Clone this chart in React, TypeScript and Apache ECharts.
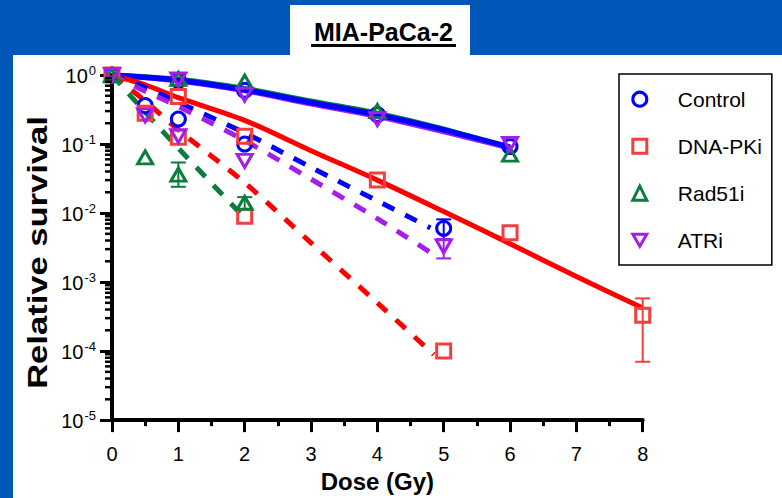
import React, { useEffect, useRef } from 'react';
import * as echarts from 'echarts';

const FONT = '"Liberation Sans", Arial, Helvetica, sans-serif';

const BLUE = '#0000ff';
const RED_LINE = '#ff0000';
const RED_MARK = '#f43e3e';
const GREEN = '#0a7d3c';
const PURPLE = '#a51ee8';
const BG = '#0057b8';

const treatments = ['Control', 'DNA-PKi', 'Rad51i', 'ATRi'];

// Measured survival points [dose (Gy), relative survival]
const controlPoints = [[0, 1], [0.5, 0.36], [1, 0.83], [1, 0.23], [2, 0.6], [2, 0.1], [4, 0.267], [5, 0.006], [6, 0.092]];
const dnapkPoints = [[0, 1], [0.5, 0.28], [1, 0.49], [1, 0.125], [2, 0.13], [2, 0.009], [4, 0.03], [5, 0.0001], [6, 0.0052], [8, 0.00033]];
const rad51Points = [[0, 1], [0.5, 0.064], [1, 0.88], [1, 0.036], [2, 0.8], [2, 0.014], [4, 0.3], [6, 0.07]];
const atrPoints = [[0, 1], [0.5, 0.26], [1, 0.86], [1, 0.13], [2, 0.52], [2, 0.057], [4, 0.23], [5, 0.0033], [6, 0.1]];

// Error bars [dose, low, high]
const controlErr = [[5, 0.0042, 0.0081]];
const dnapkErr = [[8, 0.00007, 0.00058]];
const rad51Err = [[1, 0.024, 0.054], [2, 0.0115, 0.017]];
const atrErr = [[5, 0.0022, 0.0042]];

// Fitted curves
const controlFitSolid = [[0, 1], [1, 0.84], [2, 0.61], [3, 0.4], [4, 0.265], [5, 0.16], [6, 0.09]];
const rad51FitSolid = [[0, 1], [1, 0.87], [2, 0.64], [3, 0.42], [4, 0.28], [5, 0.165], [6, 0.086]];
const atrFitSolid = [[0, 1], [1, 0.82], [2, 0.59], [3, 0.38], [4, 0.25], [5, 0.15], [6, 0.087]];
const dnapkFitSolid = [[0, 1], [0.5, 0.72], [1, 0.47], [2, 0.22], [3, 0.08], [4, 0.03], [5, 0.0105], [6, 0.0036], [7, 0.0012], [8, 0.00042]];

const controlFitDash = [[0, 1], [0.5, 0.66], [1, 0.4], [2, 0.145], [3, 0.046], [4, 0.015], [4.8, 0.0061]];
const atrFitDash = [[0, 1], [0.5, 0.58], [1, 0.35], [2, 0.112], [3, 0.031], [4, 0.0083], [4.85, 0.0025]];
const dnapkFitDash = [[0, 1], [0.5, 0.42], [1, 0.16], [2, 0.0275], [3, 0.0037], [4, 0.0005], [4.85, 0.000089]];
const rad51FitDash = [[0, 1], [0.5, 0.29], [1, 0.087], [1.5, 0.027], [2, 0.0085]];

const INV_TRI = 'path://M0,0L20,0L10,17.32Z';

function minorLogTicks(): number[] {
  const out: number[] = [];
  for (let e = -5; e < 0; e++) {
    for (let m = 2; m <= 9; m++) out.push(m * Math.pow(10, e));
  }
  return out;
}

function fitLine(name: string, data: number[][], color: string, dashed: boolean, width: number, z: number) {
  return {
    type: 'line',
    name,
    data,
    smooth: 0.3,
    symbol: 'none',
    showSymbol: false,
    z,
    lineStyle: {
      color,
      width,
      type: dashed ? [13, 12] : 'solid',
      cap: 'butt',
    },
    silent: true,
  };
}

function markers(name: string, data: number[][], color: string, symbol: string, size: any) {
  return {
    type: 'scatter',
    name,
    data,
    symbol,
    symbolSize: size,
    z: 5,
    itemStyle: { color: 'rgba(0,0,0,0)', borderColor: color, borderWidth: 3, opacity: 1 },
  };
}

function errorBars(name: string, data: number[][], color: string) {
  return {
    type: 'custom',
    name,
    data,
    z: 4,
    clip: false,
    encode: { x: 0, y: [1, 2] },
    renderItem: (params: any, api: any) => {
      const x = api.value(0);
      const lo = api.coord([x, api.value(1)]);
      const hi = api.coord([x, api.value(2)]);
      const hw = 7.5;
      const st = { stroke: color, lineWidth: 2 };
      return {
        type: 'group',
        children: [
          { type: 'line', shape: { x1: lo[0], y1: lo[1], x2: hi[0], y2: hi[1] }, style: st },
          { type: 'line', shape: { x1: lo[0] - hw, y1: lo[1], x2: lo[0] + hw, y2: lo[1] }, style: st },
          { type: 'line', shape: { x1: hi[0] - hw, y1: hi[1], x2: hi[0] + hw, y2: hi[1] }, style: st },
        ],
      };
    },
  };
}

export default function App() {
  const ref = useRef<HTMLDivElement>(null);

  useEffect(() => {
    if (!ref.current) return;
    const chart = echarts.init(ref.current, null, { renderer: 'svg' });

    const option: any = {
      animation: false,
      backgroundColor: BG,
      textStyle: { fontFamily: FONT },
      grid: { left: 112, right: 139.3, top: 75, bottom: 68.5 },
      graphic: [
        { type: 'rect', z: -10, shape: { x: 13, y: 55, width: 769, height: 443 }, style: { fill: '#fff' } },
        { type: 'rect', z: -10, shape: { x: 290, y: 5, width: 180, height: 52 }, style: { fill: '#fff' } },
        {
          type: 'text', z: 10, x: 383.5, y: 32,
          style: { text: 'MIA-PaCa-2', fontSize: 25, fontWeight: 'bold', fontFamily: FONT, fill: '#000', align: 'center', verticalAlign: 'middle' },
        },
        { type: 'line', z: 10, shape: { x1: 311, y1: 45.5, x2: 456, y2: 45.5 }, style: { stroke: '#000', lineWidth: 3 } },
        {
          type: 'text', z: 10, x: 38, y: 252.5, rotation: Math.PI / 2, scaleX: 1.28,
          style: { text: 'Relative survival', fontSize: 27, fontWeight: 'bold', fontFamily: FONT, fill: '#000', align: 'center', verticalAlign: 'middle' },
        },
      ],
      legend: {
        orient: 'vertical',
        left: 619,
        top: 74,
        padding: [14.7, 10, 14.3, 12.3],
        borderColor: '#000',
        borderWidth: 1.5,
        backgroundColor: '#fff',
        itemWidth: 14,
        itemHeight: 14,
        itemGap: 26,
        selectedMode: false,
        textStyle: { fontSize: 21, color: '#000', fontFamily: FONT, padding: [0, 0, 0, 26], lineHeight: 14 },
        data: [
          { name: treatments[0], icon: 'circle', itemStyle: { color: '#fff', borderColor: BLUE, borderWidth: 3 } },
          { name: treatments[1], icon: 'rect', itemStyle: { color: '#fff', borderColor: RED_MARK, borderWidth: 3 } },
          { name: treatments[2], icon: 'triangle', itemStyle: { color: '#fff', borderColor: GREEN, borderWidth: 3 } },
          { name: treatments[3], icon: INV_TRI, itemStyle: { color: '#fff', borderColor: PURPLE, borderWidth: 3 } },
        ],
      },
      xAxis: {
        type: 'value',
        min: 0,
        max: 8,
        interval: 1,
        name: 'Dose (Gy)',
        nameLocation: 'middle',
        nameGap: 42,
        nameTextStyle: { fontSize: 24, fontWeight: 'bold', color: '#000', fontFamily: FONT },
        axisLine: { show: true, onZero: false, lineStyle: { color: '#000', width: 4 } },
        axisTick: { show: true, inside: false, length: 12, lineStyle: { color: '#000', width: 3 } },
        minorTick: { show: true, splitNumber: 2, length: 6, lineStyle: { color: '#000', width: 3 } },
        splitLine: { show: false },
        axisLabel: { fontSize: 20, color: '#000', margin: 24, fontFamily: FONT },
      },
      yAxis: {
        type: 'log',
        logBase: 10,
        min: 1e-5,
        max: 1,
        axisLine: { show: true, onZero: false, lineStyle: { color: '#000', width: 4 } },
        axisTick: { show: true, inside: false, length: 12, lineStyle: { color: '#000', width: 3 } },
        splitLine: { show: false },
        axisLabel: {
          margin: 16,
          color: '#000',
          fontFamily: FONT,
          formatter: (v: number) => `{b|10}{s|${Math.round(Math.log10(v))}}`,
          rich: {
            b: { fontSize: 20, color: '#000', fontFamily: FONT, lineHeight: 22, verticalAlign: 'bottom' },
            s: { fontSize: 13, color: '#000', fontFamily: FONT, lineHeight: 22, verticalAlign: 'top', padding: [0, 0, 0, 1] },
          },
        },
      },
      series: [
        {
          type: 'custom',
          name: 'minorY',
          data: minorLogTicks().map((v) => [0, v]),
          z: 6,
          clip: false,
          silent: true,
          renderItem: (params: any, api: any) => {
            const p = api.coord([api.value(0), api.value(1)]);
            return { type: 'line', shape: { x1: p[0] - 7, y1: p[1], x2: p[0], y2: p[1] }, style: { stroke: '#000', lineWidth: 2.5 } };
          },
        },
        fitLine('Rad51i fit', rad51FitSolid, GREEN, false, 5, 2),
        fitLine('ATRi fit', atrFitSolid, PURPLE, false, 5, 2),
        fitLine('Control fit', controlFitSolid, BLUE, false, 5.5, 3),
        fitLine('DNA-PKi fit', dnapkFitSolid, RED_LINE, false, 5, 3),
        fitLine('Control fit 2', controlFitDash, BLUE, true, 5, 3),
        fitLine('ATRi fit 2', atrFitDash, PURPLE, true, 5, 3),
        fitLine('DNA-PKi fit 2', dnapkFitDash, RED_LINE, true, 5, 3),
        fitLine('Rad51i fit 2', rad51FitDash, GREEN, true, 5, 3),
        errorBars('Control err', controlErr, BLUE),
        errorBars('DNA-PKi err', dnapkErr, RED_MARK),
        errorBars('Rad51i err', rad51Err, GREEN),
        errorBars('ATRi err', atrErr, PURPLE),
        markers(treatments[0], controlPoints, BLUE, 'circle', 14),
        markers(treatments[1], dnapkPoints, RED_MARK, 'rect', 14),
        markers(treatments[2], rad51Points, GREEN, 'triangle', [15, 13]),
        markers(treatments[3], atrPoints, PURPLE, INV_TRI, [15, 13]),
      ],
    };

    chart.setOption(option);
    return () => chart.dispose();
  }, []);

  return <div ref={ref} style={{ position: 'fixed', left: 0, top: 0, width: 782, height: 498 }} />;
}
